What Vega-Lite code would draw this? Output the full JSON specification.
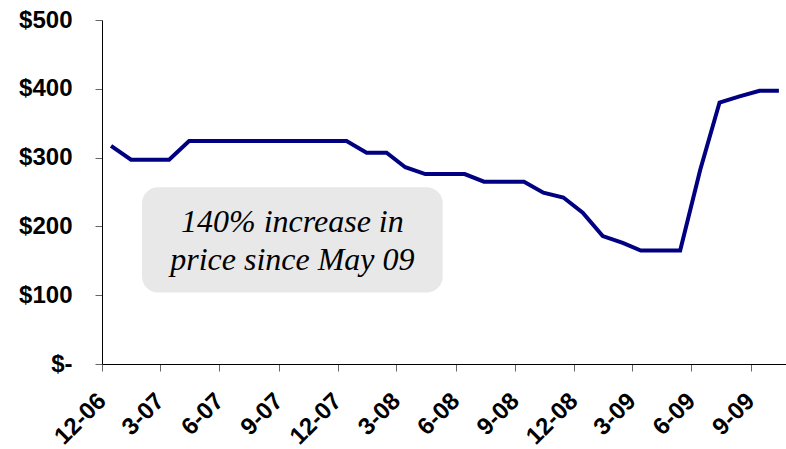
{
  "$schema": "https://vega.github.io/schema/vega-lite/v6.json",
  "autosize": "none",
  "width": 684,
  "height": 344,
  "padding": {"left": 102, "top": 20, "right": 0, "bottom": 85},
  "background": "white",
  "config": {"view": {"stroke": null}},
  "datasets": {
    "price": [
      {"month": "2006-12-15", "price": 317},
      {"month": "2007-01-15", "price": 297},
      {"month": "2007-02-15", "price": 297},
      {"month": "2007-03-15", "price": 297},
      {"month": "2007-04-15", "price": 324},
      {"month": "2007-05-15", "price": 324},
      {"month": "2007-06-15", "price": 324},
      {"month": "2007-07-15", "price": 324},
      {"month": "2007-08-15", "price": 324},
      {"month": "2007-09-15", "price": 324},
      {"month": "2007-10-15", "price": 324},
      {"month": "2007-11-15", "price": 324},
      {"month": "2007-12-15", "price": 324},
      {"month": "2008-01-15", "price": 307},
      {"month": "2008-02-15", "price": 307},
      {"month": "2008-03-15", "price": 286},
      {"month": "2008-04-15", "price": 276},
      {"month": "2008-05-15", "price": 276},
      {"month": "2008-06-15", "price": 276},
      {"month": "2008-07-15", "price": 265},
      {"month": "2008-08-15", "price": 265},
      {"month": "2008-09-15", "price": 265},
      {"month": "2008-10-15", "price": 249},
      {"month": "2008-11-15", "price": 242},
      {"month": "2008-12-15", "price": 220},
      {"month": "2009-01-15", "price": 186},
      {"month": "2009-02-15", "price": 176},
      {"month": "2009-03-15", "price": 165},
      {"month": "2009-04-15", "price": 165},
      {"month": "2009-05-15", "price": 165},
      {"month": "2009-06-15", "price": 282},
      {"month": "2009-07-15", "price": 380},
      {"month": "2009-08-15", "price": 389},
      {"month": "2009-09-15", "price": 397},
      {"month": "2009-10-15", "price": 397}
    ],
    "note": [
      {"start": "2007-02-01", "end": "2008-05-12", "low": 104, "high": 257, "mid": "2007-09-22", "first": 192, "label": ["140% increase in", "price since May 09"]}
    ]
  },
  "layer": [
    {
      "data": {"name": "note"},
      "mark": {"type": "rect", "fill": "#e8e8e8", "cornerRadius": 16},
      "encoding": {
        "x": {"field": "start", "type": "temporal"},
        "x2": {"field": "end"},
        "y": {"field": "high", "type": "quantitative"},
        "y2": {"field": "low"}
      }
    },
    {
      "data": {"name": "note"},
      "mark": {"type": "text", "font": "Liberation Serif", "fontStyle": "italic", "fontSize": 32, "color": "black", "align": "center", "baseline": "alphabetic", "lineHeight": 38.5},
      "encoding": {
        "x": {"field": "mid", "type": "temporal"},
        "y": {"field": "first", "type": "quantitative"},
        "text": {"field": "label"}
      }
    },
    {
      "data": {"name": "price"},
      "mark": {"type": "line", "color": "#000080", "strokeWidth": 4, "strokeJoin": "miter"},
      "encoding": {
        "x": {
          "field": "month",
          "type": "temporal",
          "scale": {"type": "utc", "domain": [{"year": 2006, "month": 12, "date": 1, "utc": true}, {"year": 2009, "month": 10, "date": 26, "utc": true}]},
          "axis": {
            "title": null,
            "values": [
              {"year": 2006, "month": 12, "date": 1, "utc": true},
              {"year": 2007, "month": 3, "date": 1, "utc": true},
              {"year": 2007, "month": 6, "date": 1, "utc": true},
              {"year": 2007, "month": 9, "date": 1, "utc": true},
              {"year": 2007, "month": 12, "date": 1, "utc": true},
              {"year": 2008, "month": 3, "date": 1, "utc": true},
              {"year": 2008, "month": 6, "date": 1, "utc": true},
              {"year": 2008, "month": 9, "date": 1, "utc": true},
              {"year": 2008, "month": 12, "date": 1, "utc": true},
              {"year": 2009, "month": 3, "date": 1, "utc": true},
              {"year": 2009, "month": 6, "date": 1, "utc": true},
              {"year": 2009, "month": 9, "date": 1, "utc": true}
            ],
            "format": "%-m-%y",
            "grid": false,
            "domainColor": "#000000",
            "domainWidth": 1,
            "tickColor": "#666666",
            "tickSize": 7,
            "labelAngle": -45,
            "labelAlign": "right",
            "labelBaseline": "middle",
            "labelPadding": 26,
            "labelDx": -9,
            "labelFont": "Liberation Sans",
            "labelFontWeight": "bold",
            "labelFontSize": 24,
            "labelColor": "#000000",
            "labelOverlap": false,
            "labelFlush": false
          }
        },
        "y": {
          "field": "price",
          "type": "quantitative",
          "scale": {"domain": [0, 500], "nice": false, "zero": true},
          "axis": {
            "title": null,
            "values": [0, 100, 200, 300, 400, 500],
            "labelExpr": "datum.value == 0 ? '$-' : '$' + datum.value",
            "grid": false,
            "domainColor": "#000000",
            "domainWidth": 1,
            "tickColor": "#666666",
            "tickSize": 7,
            "labelPadding": 23,
            "labelFont": "Liberation Sans",
            "labelFontWeight": "bold",
            "labelFontSize": 24,
            "labelColor": "#000000",
            "labelOverlap": false,
            "labelFlush": false
          }
        }
      }
    }
  ]
}
